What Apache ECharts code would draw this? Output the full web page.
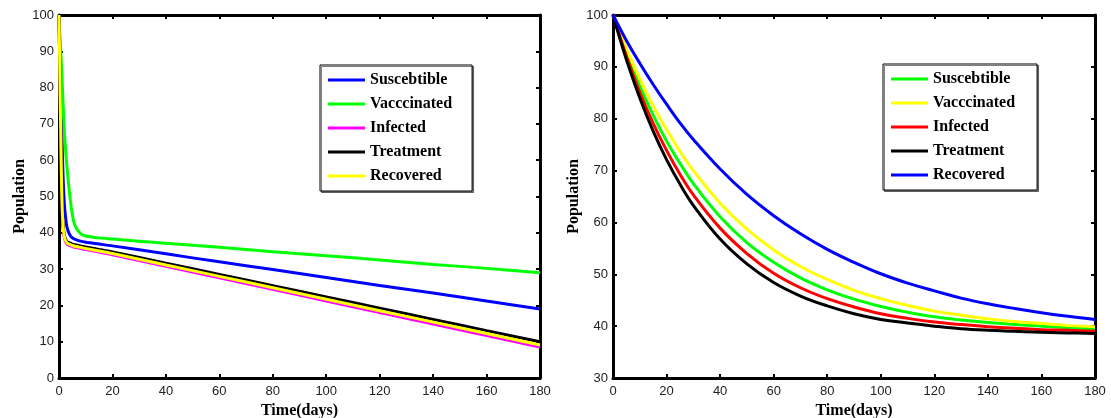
<!DOCTYPE html>
<html>
<head>
<meta charset="utf-8">
<script src="https://cdn.jsdelivr.net/npm/echarts@6/dist/echarts.min.js"></script>
<style>html,body{margin:0;padding:0;background:#fff;}#c{width:1111px;height:418px;}</style>
</head>
<body>
<div id="c"></div>
<script>
// ---------- Left panel data ----------
const daysL = [0, 0.5, 1, 1.5, 2, 2.5, 3, 4, 5, 6, 8, 10, 15, 20, 40, 60, 80, 100, 120, 140, 160, 180];
const susL  = [100, 85, 70, 56, 48, 44, 41.5, 39.5, 38.6, 38.2, 37.7, 37.4, 36.9, 36.4, 34.2, 32.0, 29.9, 27.7, 25.5, 23.4, 21.2, 19.0];
const vacL  = [100, 92, 85, 76, 68, 62.5, 58, 50.5, 45, 42, 39.8, 39.1, 38.6, 38.3, 37.1, 36.0, 34.8, 33.7, 32.5, 31.3, 30.2, 29.0];
const infL  = [100, 74.7, 51.7, 41.7, 38.7, 37.5, 36.9, 36.5, 36.2, 36.0, 35.7, 35.4, 34.7, 33.97, 30.78, 27.6, 24.42, 21.23, 18.05, 14.87, 11.68, 8.5];
const treL  = [100, 75, 52, 42.3, 39.4, 38.2, 37.6, 37.2, 36.9, 36.7, 36.4, 36.1, 35.4, 34.75, 31.65, 28.55, 25.45, 22.35, 19.25, 16.15, 13.05, 10.0];
const recL  = [100, 75, 52, 42, 39, 37.8, 37.2, 36.8, 36.5, 36.3, 36.0, 35.7, 35.0, 34.3, 31.15, 28.0, 24.85, 21.7, 18.55, 15.4, 12.25, 9.1];

// ---------- Right panel data ----------
const daysR = [0, 5, 10, 15, 20, 25, 30, 40, 50, 60, 70, 80, 90, 100, 110, 120, 130, 140, 150, 160, 170, 180];
const susR  = [100, 92.7, 86.3, 80.7, 75.7, 71.4, 67.5, 61.1, 56.1, 52.3, 49.3, 47.0, 45.2, 43.8, 42.7, 41.8, 41.2, 40.7, 40.3, 40.0, 39.7, 39.5];
const vacR  = [100, 93.5, 87.7, 82.5, 77.9, 73.7, 70.0, 63.7, 58.7, 54.7, 51.5, 49.0, 46.9, 45.3, 44.0, 42.9, 42.1, 41.4, 40.9, 40.5, 40.1, 39.9];
const infR  = [100, 92.1, 85.1, 79.1, 73.9, 69.3, 65.3, 58.9, 54.0, 50.2, 47.4, 45.3, 43.7, 42.4, 41.5, 40.8, 40.3, 39.9, 39.6, 39.3, 39.2, 39.0];
const treR  = [100, 91.4, 84.0, 77.6, 72.1, 67.4, 63.3, 56.8, 52.0, 48.4, 45.8, 43.9, 42.4, 41.3, 40.6, 40.0, 39.5, 39.2, 39.0, 38.8, 38.7, 38.6];
const recR  = [100, 95.1, 90.7, 86.6, 82.8, 79.2, 76.0, 70.3, 65.4, 61.3, 57.8, 54.8, 52.3, 50.1, 48.3, 46.8, 45.4, 44.3, 43.4, 42.6, 41.9, 41.3];

const names = ['Suscebtible', 'Vacccinated', 'Infected', 'Treatment', 'Recovered'];
const colorsL = ['#0000ff', '#00ff00', '#ff00ff', '#000000', '#ffff00'];
const colorsR = ['#00ff00', '#ffff00', '#ff0000', '#000000', '#0000ff'];

const pairs = (xs, ys) => xs.map((x, i) => [x, ys[i]]);

const tickFont = { fontFamily: 'Liberation Sans, Arial, sans-serif', fontSize: 13, color: '#222' };
const titleFont = { fontFamily: 'Liberation Serif, Times New Roman, serif', fontSize: 16, fontWeight: 'bold', color: '#000' };

function xAxes(grid) {
  return [
    { type: 'value', gridIndex: grid, position: 'bottom', min: 0, max: 180, interval: 20,
      name: 'Time(days)', nameLocation: 'middle', nameGap: 23, nameTextStyle: titleFont,
      axisLine: { show: true, onZero: false, lineStyle: { color: '#000', width: 3 } },
      axisTick: { show: true, inside: true, length: 4, lineStyle: { color: '#000', width: 2 } },
      axisLabel: Object.assign({ margin: 7 }, tickFont), splitLine: { show: false } },
    { type: 'value', gridIndex: grid, position: 'top', min: 0, max: 180, interval: 20,
      axisLine: { show: true, onZero: false, lineStyle: { color: '#000', width: 3 } },
      axisTick: { show: true, inside: true, length: 4, lineStyle: { color: '#000', width: 2 } },
      axisLabel: { show: false }, splitLine: { show: false } }
  ];
}
function yAxes(grid, mn) {
  return [
    { type: 'value', gridIndex: grid, position: 'left', min: mn, max: 100, interval: 10,
      name: 'Population', nameLocation: 'middle', nameGap: 31, nameTextStyle: titleFont,
      axisLine: { show: true, onZero: false, lineStyle: { color: '#000', width: 3 } },
      axisTick: { show: true, inside: true, length: 4, lineStyle: { color: '#000', width: 2 } },
      axisLabel: Object.assign({ margin: 5 }, tickFont), splitLine: { show: false } },
    { type: 'value', gridIndex: grid, position: 'right', min: mn, max: 100, interval: 10,
      axisLine: { show: true, onZero: false, lineStyle: { color: '#000', width: 3 } },
      axisTick: { show: true, inside: true, length: 4, lineStyle: { color: '#000', width: 2 } },
      axisLabel: { show: false }, splitLine: { show: false } }
  ];
}

const leftData = [susL, vacL, infL, treL, recL];
const rightData = [susR, vacR, infR, treR, recR];

const series = [];
names.forEach((n, i) => {
  series.push({ name: n, type: 'line', xAxisIndex: 0, yAxisIndex: 0, data: pairs(daysL, leftData[i]),
    showSymbol: false, smooth: 0.3, lineStyle: { color: colorsL[i], width: 3 }, itemStyle: { color: colorsL[i] } });
});
names.forEach((n, i) => {
  series.push({ name: n + ' ', type: 'line', xAxisIndex: 2, yAxisIndex: 2, data: pairs(daysR, rightData[i]),
    showSymbol: false, smooth: 0.4, lineStyle: { color: colorsR[i], width: 3 }, itemStyle: { color: colorsR[i] } });
});

const legendBase = {
  orient: 'vertical', icon: 'rect', itemWidth: 37, itemHeight: 3, itemGap: 6,
  borderColor: '#000', borderWidth: 1, backgroundColor: '#fff',
  shadowColor: 'rgba(0,0,0,0.5)', shadowOffsetX: 1.5, shadowOffsetY: 1.5, shadowBlur: 0,
  selectedMode: false,
  formatter: n => n.trim(),
  textStyle: { fontFamily: 'Liberation Serif, Times New Roman, serif', fontSize: 16, fontWeight: 'bold', color: '#000', lineHeight: 18 }
};

const option = {
  animation: false,
  backgroundColor: '#fff',
  grid: [
    { left: 59, top: 15, width: 481, height: 363, containLabel: false, outerBoundsMode: 'none' },
    { left: 613, top: 15, width: 482, height: 363, containLabel: false, outerBoundsMode: 'none' }
  ],
  xAxis: [...xAxes(0), ...xAxes(1)],
  yAxis: [...yAxes(0, 0), ...yAxes(1, 30)],
  legend: [
    Object.assign({}, legendBase, { left: 320, top: 65, padding: [6, 20, 6, 8], data: names }),
    Object.assign({}, legendBase, { left: 883, top: 64, padding: [6, 22, 6, 8], data: names.map(n => n + ' ') })
  ],
  series: series
};

const chart = echarts.init(document.getElementById('c'), null, { renderer: 'canvas' });
chart.setOption(option);
</script>
</body>
</html>
